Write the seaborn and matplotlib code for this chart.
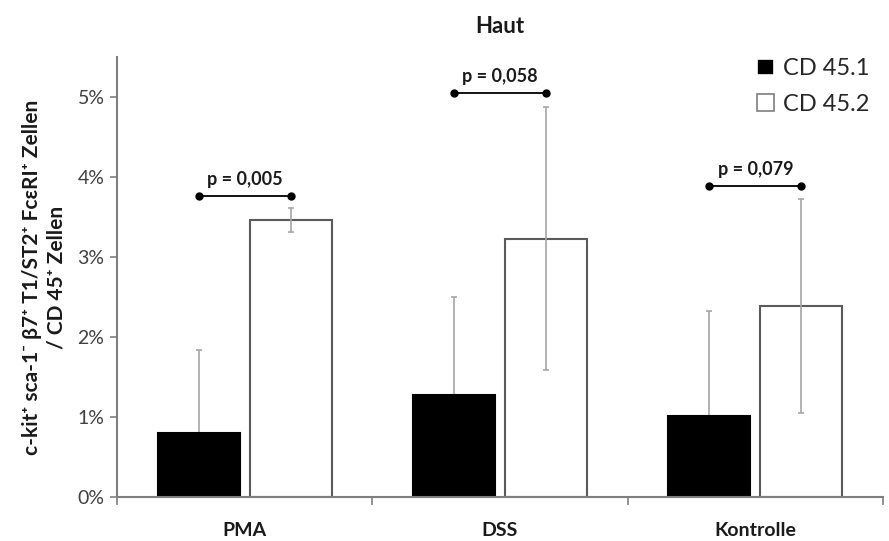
import numpy as np
import pandas as pd
import seaborn as sns
from matplotlib import pyplot as plt
from matplotlib.ticker import FuncFormatter, FixedLocator

groups = ["PMA", "DSS", "Kontrolle"]
series = ["CD 45.1", "CD 45.2"]
cd451 = [0.80, 1.27, 1.01]
cd452 = [3.46, 3.23, 2.39]
sd451 = [1.04, 1.23, 1.32]
sd452 = [0.15, 1.64, 1.34]
p_labels = ["p = 0,005", "p = 0,058", "p = 0,079"]
p_heights = [3.76, 5.05, 3.89]

sns.set_theme(style="white")
plt.rcParams['font.family'] = ['Lato', 'DejaVu Sans']

df = pd.DataFrame({
    "Gruppe": groups * 2,
    "Serie": [series[0]] * 3 + [series[1]] * 3,
    "Wert": cd451 + cd452,
})

fig = plt.figure(figsize=(8.89, 5.41), dpi=100)
ax = fig.add_axes([0.1316, 0.0813, 0.8617, 0.8133])

sns.barplot(data=df, x="Gruppe", y="Wert", hue="Serie", order=groups, hue_order=series,
            palette={"CD 45.1": "black", "CD 45.2": "white"}, errorbar=None,
            width=0.72, gap=0.11, ax=ax, legend=True)

edgecols = ["black", "#5a5a5a"]
sds = [sd451, sd452]
bar_conts = list(ax.containers)
centers = []
for i, cont in enumerate(bar_conts):
    xs = []
    for bar in cont:
        bar.set_edgecolor(edgecols[i])
        bar.set_linewidth(1.5)
        bar.set_zorder(2)
        xs.append(bar.get_x() + bar.get_width() / 2)
    hs = [b.get_height() for b in cont]
    ax.errorbar(xs, hs, yerr=sds[i], fmt="none", ecolor="#a6a6a6", elinewidth=1.2,
                capsize=2.5, capthick=1.2, zorder=1 if i == 0 else 3)
    centers.append(xs)

for j in range(len(groups)):
    x0, x1 = centers[0][j], centers[1][j]
    y = p_heights[j]
    ax.plot([x0, x1], [y, y], color="black", lw=1.3, marker="o", ms=5, zorder=4)
    ax.text((x0 + x1) / 2, y + 0.1, p_labels[j], ha="center", va="bottom",
            fontsize=13, fontweight="bold", color="#1a1a1a")

ax.set_xlim(-0.5, 2.5)
ax.set_ylim(0, 5.5)
ax.set_yticks([0, 1, 2, 3, 4, 5])
ax.yaxis.set_major_formatter(FuncFormatter(lambda v, _: f"{v:.0f}%"))
ax.xaxis.set_minor_locator(FixedLocator([-0.5, 0.5, 1.5, 2.5]))
ax.tick_params(axis="y", which="both", left=True, length=5, width=1.2, color="#7f7f7f",
               labelsize=14, labelcolor="#404040", pad=4)
ax.tick_params(axis="x", which="major", bottom=False, labelsize=14, pad=12)
ax.tick_params(axis="x", which="minor", bottom=True, length=6, width=1.2, color="#7f7f7f")
for lab in ax.get_xticklabels():
    lab.set_fontweight("bold")
    lab.set_color("#1a1a1a")
ax.set_xlabel("")
ax.set_ylabel("c-kit⁺ sca-1⁻ β7⁺ T1/ST2⁺ FcεRI⁺ Zellen\n/ CD 45⁺ Zellen",
              fontsize=15, fontweight="bold", color="#1a1a1a", labelpad=8, linespacing=1.3)
for s in ["top", "right"]:
    ax.spines[s].set_visible(False)
for s in ["left", "bottom"]:
    ax.spines[s].set_color("#7f7f7f")
    ax.spines[s].set_linewidth(1.5)

ax.set_title("Haut", fontsize=16, fontweight="bold", color="#1a1a1a", pad=17)

leg = ax.legend(loc="upper right", bbox_to_anchor=(1.01, 1.045), frameon=False, fontsize=17,
                handlelength=0.7, handleheight=0.7, handletextpad=0.4, labelspacing=0.6)
for h in leg.legend_handles:
    h.set_linewidth(1.2)
leg.legend_handles[1].set_edgecolor("#7f7f7f")

fig.savefig("out.png", dpi=100)
